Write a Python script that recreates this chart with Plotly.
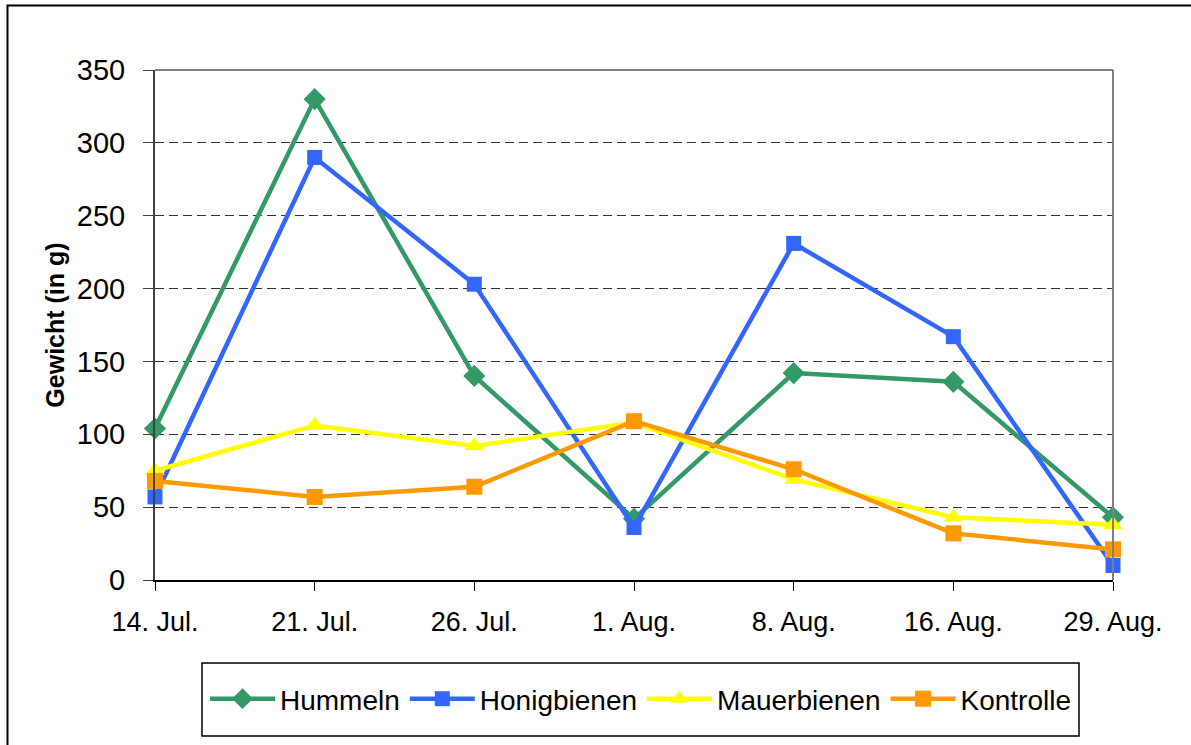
import plotly.graph_objects as go

categories = ["14. Jul.", "21. Jul.", "26. Jul.", "1. Aug.", "8. Aug.", "16. Aug.", "29. Aug."]
hummeln = [104, 330, 140, 42, 142, 136, 43]
honigbienen = [57, 290, 203, 36, 231, 167, 10]
mauerbienen = [75, 106, 92, 108, 69, 43, 38]
kontrolle = [68, 57, 64, 109, 76, 32, 21]
y_ticks = [0, 50, 100, 150, 200, 250, 300, 350]

FONT = "Arial, 'Liberation Sans', sans-serif"

series = [
    ("Hummeln", hummeln, "#339966", "diamond", 17),
    ("Honigbienen", honigbienen, "#3366FF", "square", 15),
    ("Mauerbienen", mauerbienen, "#FFFF00", "triangle-up", 17),
    ("Kontrolle", kontrolle, "#FF9900", "square", 16),
]

fig = go.Figure()
for name, vals, color, sym, size in series:
    fig.add_trace(go.Scatter(
        x=categories, y=vals, name=name, mode="lines+markers",
        line=dict(color=color, width=4.5),
        marker=dict(symbol=sym, size=size, color=color),
        cliponaxis=False,
    ))

# page offset of the plot div (body margin removed via post_script)
OFF = 0
W, H = 1191 - OFF, 745 - OFF
# plot area in page pixels
PX0, PX1, PY0, PY1 = 155, 1113, 70, 580
pw, ph = PX1 - PX0, PY1 - PY0
L, T = PX0 - OFF, PY0 - OFF
R, B = W - (PX1 - OFF), H - (PY1 - OFF)


def px(x):
    return (x - PX0) / pw


def py(y):
    return (PY1 - y) / ph


fig.update_layout(
    width=W, height=H,
    margin=dict(l=L, r=R, t=T, b=B, pad=0),
    paper_bgcolor="white", plot_bgcolor="white",
    font=dict(family=FONT, color="black"),
    showlegend=True,
    legend=dict(
        orientation="h", x=px(641), xanchor="center",
        y=py(699), yanchor="middle",
        borderwidth=0, bgcolor="rgba(0,0,0,0)",
        font=dict(size=28, family=FONT),
        itemwidth=65, tracegroupgap=0,
    ),
    xaxis=dict(
        type="category", range=[0, 6],
        showline=True, linecolor="black", linewidth=2,
        ticks="outside", ticklen=9, tickcolor="black", tickwidth=1,
        tickfont=dict(size=27, family=FONT),
        ticklabelstandoff=8,
        showgrid=False, zeroline=False,
    ),
    yaxis=dict(
        range=[0, 350], tickvals=y_ticks,
        showline=True, linecolor="#404040", linewidth=2,
        ticks="outside", ticklen=10, tickcolor="#404040", tickwidth=1,
        tickfont=dict(size=29, family=FONT),
        ticklabelstandoff=12,
        showgrid=True, gridcolor="#333333", gridwidth=1, griddash="9px,5px",
        zeroline=False,
        title=dict(text="<b>Gewicht (in g)</b>", font=dict(size=25, family=FONT), standoff=5),
    ),
    shapes=[
        dict(type="line", xref="paper", yref="paper", x0=0, x1=1, y0=1, y1=1,
             line=dict(color="#808080", width=2)),
        dict(type="line", xref="paper", yref="paper", x0=1, x1=1, y0=0, y1=1,
             line=dict(color="#808080", width=2)),
        # legend box
        dict(type="rect", xref="paper", yref="paper",
             x0=px(202), x1=px(1079), y0=py(736), y1=py(663),
             line=dict(color="black", width=1.5), fillcolor="rgba(0,0,0,0)"),
        # outer chart border
        dict(type="rect", xref="paper", yref="paper",
             x0=px(7.5), x1=px(1300), y0=py(900), y1=py(5.5),
             line=dict(color="black", width=2), fillcolor="rgba(0,0,0,0)"),
    ],
)

fig.write_html(
    "out.html",
    config={"displayModeBar": False},
    post_script="document.body.style.margin='0px';document.body.style.overflow='hidden';",
)
